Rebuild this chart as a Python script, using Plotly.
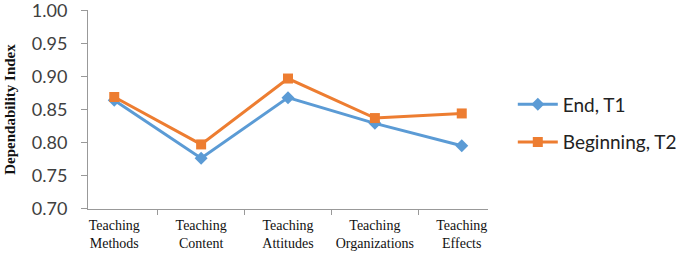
import plotly.graph_objects as go

categories = ["Teaching<br>Methods", "Teaching<br>Content", "Teaching<br>Attitudes",
              "Teaching<br>Organizations", "Teaching<br>Effects"]
end_t1 = [0.864, 0.776, 0.868, 0.829, 0.795]
beginning_t2 = [0.869, 0.797, 0.897, 0.837, 0.844]
y_ticks = [0.70, 0.75, 0.80, 0.85, 0.90, 0.95, 1.00]

fig = go.Figure()
fig.add_trace(go.Scatter(x=categories, y=end_t1, name="End, T1", mode="lines+markers",
                         line=dict(color="#5B9BD5", width=3),
                         marker=dict(symbol="diamond", size=10, color="#5B9BD5"),
                         legendgroup="a"))
fig.add_trace(go.Scatter(x=categories, y=beginning_t2, name="Beginning, T2", mode="lines+markers",
                         line=dict(color="#ED7D31", width=3),
                         marker=dict(symbol="square", size=10, color="#ED7D31"),
                         legendgroup="b"))

fig.update_layout(
    width=680, height=253,
    margin=dict(l=88, r=192, t=10, b=44, autoexpand=False),
    paper_bgcolor="white", plot_bgcolor="white",
    showlegend=True,
    legend=dict(x=1.062, y=0.43, xanchor="left", yanchor="middle",
                font=dict(family="Lato", size=19, color="#222"),
                tracegroupgap=10, traceorder="grouped", itemwidth=40),
    xaxis=dict(showline=True, linecolor="#999", linewidth=1, ticks="outside",
               tickson="boundaries", ticklen=5, tickcolor="#999", showgrid=False,
               automargin=False, tickangle=0, ticklabelstandoff=3,
               tickfont=dict(family="Liberation Serif", size=14, color="#111")),
    yaxis=dict(range=[0.699, 1.001], tickvals=y_ticks, ticktext=[f"{v:.2f}" for v in y_ticks],
               showline=True, linecolor="#999", linewidth=1, ticks="outside",
               ticklen=6, tickcolor="#999", showgrid=False, zeroline=False,
               automargin=False, ticklabelstandoff=10, ticklabeloverflow="allow",
               tickfont=dict(family="Lato", size=18, color="#404040"),
               title=dict(text="<b>Dependability Index</b>", standoff=12,
                          font=dict(family="Liberation Serif", size=15, color="#111"))),
)

fig.write_html("out.html", config={"displayModeBar": False},
               post_script="document.body.style.margin='0';")
